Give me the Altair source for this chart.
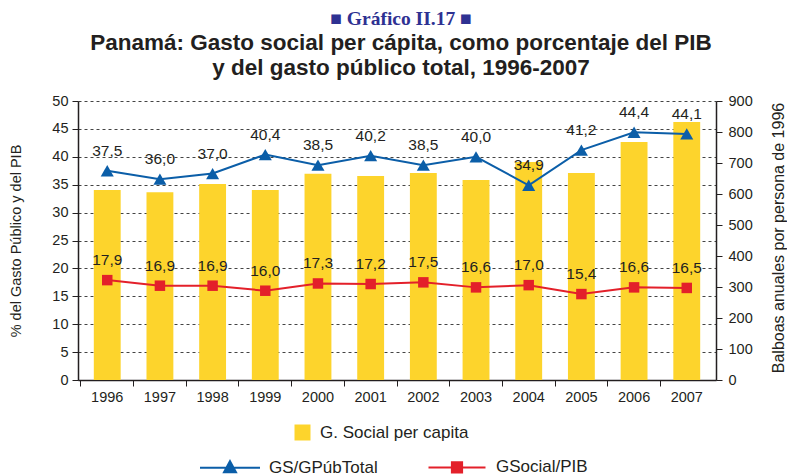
import altair as alt
import pandas as pd

# ---------------- data ----------------
years = [str(y) for y in range(1996, 2008)]
gasto_per_capita = [613, 606, 632, 613, 665, 658, 668, 645, 703, 668, 768, 832]
gs_gpubtotal = [37.5, 36.0, 37.0, 40.4, 38.5, 40.2, 38.5, 40.0, 34.9, 41.2, 44.4, 44.1]
gsocial_pib = [17.9, 16.9, 16.9, 16.0, 17.3, 17.2, 17.5, 16.6, 17.0, 15.4, 16.6, 16.5]
series_names = ["GS/GPúbTotal", "GSocial/PIB"]
bar_name = "G. Social per capita"
left_ticks = [0, 5, 10, 15, 20, 25, 30, 35, 40, 45, 50]
right_ticks = [0, 100, 200, 300, 400, 500, 600, 700, 800, 900]

title_text = "■ Gráfico II.17 ■"
subtitle_lines = ["Panamá: Gasto social per cápita, como porcentaje del PIB",
                  "y del gasto público total, 1996-2007"]
left_title = "% del Gasto Público y del PIB"
right_title = "Balboas anuales por persona de 1996"

bars_df = pd.DataFrame({"year": years, "gasto": gasto_per_capita, "serie": bar_name})
lines_df = pd.DataFrame({
    "year": years + years,
    "value": gs_gpubtotal + gsocial_pib,
    "serie": [series_names[0]] * len(years) + [series_names[1]] * len(years),
})

# ---------------- style ----------------
TXT = "#231f20"
BLUE = "#0b5ea8"
RED = "#e3202a"
YELLOW = "#fdd42c"
FONT = "Liberation Sans"

PATH_T = "M-1,0L1,0M0,-0.22L0.2,0.15L-0.2,0.15Z"
PATH_S = "M-0.95,0L0.95,0M-0.17,-0.17L0.17,-0.17L0.17,0.17L-0.17,0.17Z"

W, H = 638, 279

x_scale = alt.Scale(paddingInner=0.49, paddingOuter=0.3)
x_label_axis = alt.Axis(orient="bottom", labelAngle=0, ticks=False, tickSize=0, domain=False,
                        grid=False, labelPadding=10, labelFontSize=14.5, title=None)
x_tick_axis = alt.Axis(orient="bottom", labels=False, ticks=True, tickSize=6, bandPosition=-0.48,
                       domain=True, domainWidth=1.5, grid=False, title=None)

left_axis = alt.Axis(orient="left", values=left_ticks, grid=True, gridDash=[3, 3], gridColor="#444",
                     gridWidth=1, tickSize=6, labelPadding=4, labelFontSize=14.5,
                     domainWidth=1.5, title=left_title, titleX=-62, titleY=H / 2,
                     titleAngle=270, titleAlign="center", titleBaseline="middle",
                     titleFontSize=14.5, titleFontWeight="normal")
right_axis = alt.Axis(orient="right", values=right_ticks, grid=False, tickSize=6, labelPadding=6,
                      labelFontSize=14.5, domainWidth=1.5, title=right_title, titleX=62, titleY=H / 2 - 3,
                      titleAngle=270, titleAlign="center", titleBaseline="middle",
                      titleFontSize=16, titleFontWeight="normal")

legend_bar = alt.Legend(title=None, orient="none", legendX=216, legendY=323, symbolType="square",
                        symbolSize=256, symbolStrokeWidth=0, labelFontSize=17, labelOffset=9,
                        padding=0)
legend_lines = alt.Legend(title=None, orient="none", direction="horizontal", legendX=121, legendY=335,
                          symbolSize=3600, symbolStrokeWidth=2, symbolOpacity=1, labelOffset=8,
                          columnPadding=46, labelFontSize=17, padding=0)

x_lab = alt.X("year:N", scale=x_scale, axis=x_label_axis)
x_tick = alt.X("year:N", scale=x_scale, axis=x_tick_axis)
y_left = alt.Y("value:Q", scale=alt.Scale(domain=[0, 50]), axis=left_axis)
line_scale = alt.Scale(domain=series_names, range=[BLUE, RED])

bars = alt.Chart(bars_df).mark_bar().encode(
    x=x_lab,
    y=alt.Y("gasto:Q", scale=alt.Scale(domain=[0, 900]), axis=right_axis),
    color=alt.Color("serie:N", scale=alt.Scale(domain=[bar_name], range=[YELLOW]), legend=legend_bar),
)

base = alt.Chart(lines_df)
blue_base = base.transform_filter(alt.datum.serie == series_names[0])
red_base = base.transform_filter(alt.datum.serie == series_names[1])

line_blue = blue_base.mark_line(strokeWidth=2, color=BLUE).encode(x=x_tick, y=y_left)
line_red = red_base.mark_line(strokeWidth=2, color=RED).encode(x=x_tick, y=y_left)
pts_blue = blue_base.mark_point(shape="triangle-up", filled=True, size=170, color=BLUE,
                                opacity=1).encode(x=x_tick, y=y_left)
pts_red = red_base.mark_point(shape="square", filled=True, size=110, color=RED,
                              opacity=1).encode(x=x_tick, y=y_left)
labels = base.transform_calculate(
    label="replace(format(datum.value, '.1f'), '.', ',')"
).mark_text(dy=-20, fontSize=15.5, font=FONT, color=TXT).encode(x=x_tick, y=y_left, text="label:N")
legend_layer = base.mark_point(opacity=0, filled=True).encode(
    x=x_tick, y=y_left,
    fill=alt.Fill("serie:N", scale=line_scale, legend=legend_lines),
    stroke=alt.Stroke("serie:N", scale=line_scale, legend=legend_lines),
    shape=alt.Shape("serie:N", scale=alt.Scale(domain=series_names, range=[PATH_T, PATH_S]),
                    legend=legend_lines),
)

inner = alt.layer(line_blue, line_red, pts_blue, pts_red, labels, legend_layer)

chart = alt.layer(bars, inner).resolve_scale(
    y="independent"
).resolve_axis(x="independent").properties(
    width=W, height=H,
    autosize=alt.AutoSizeParams(type="none"),
    padding={"left": 70, "top": 93, "right": 71, "bottom": 96},
    title=alt.TitleParams(
        text=title_text, subtitle=subtitle_lines, anchor="middle", dx=4,
        font="Liberation Serif", fontSize=19.5, fontWeight="bold", color="#2e3192",
        subtitleFont=FONT, subtitleFontSize=22.5, subtitleFontWeight="bold", subtitleColor=TXT,
        subtitlePadding=2, subtitleLineHeight=25, offset=13,
    ),
).configure_view(stroke=None).configure_axis(
    labelColor=TXT, domainColor=TXT, tickColor=TXT, titleColor=TXT,
    labelFont=FONT, titleFont=FONT,
).configure_legend(labelFont=FONT, labelColor=TXT)

chart.save("out.html", embed_options={"renderer": "svg", "actions": False})
